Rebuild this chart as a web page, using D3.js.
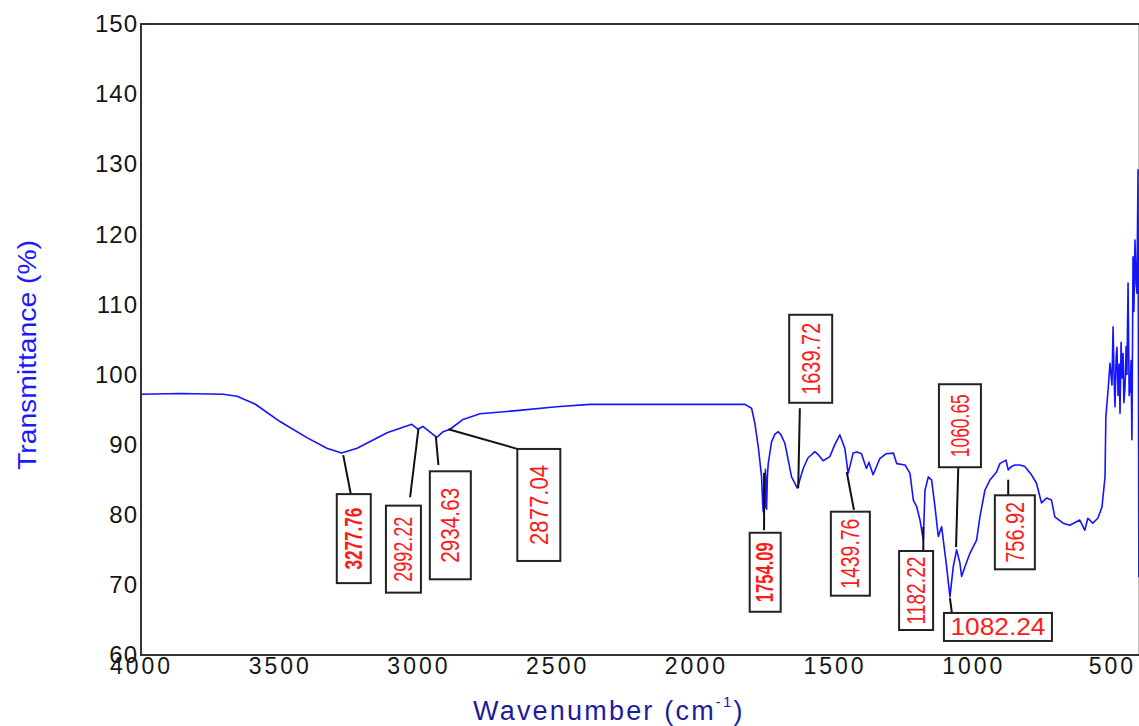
<!DOCTYPE html>
<html>
<head>
<meta charset="utf-8">
<script src="https://cdn.jsdelivr.net/npm/d3@7/dist/d3.min.js"></script>
<style>
body { margin: 0; background: #fff; }
svg { display: block; font-family: "Liberation Sans", Arial, sans-serif; }
</style>
</head>
<body>
<script>
// spectrum (cm-1, %T)
var wavenumber = [4000, 3859, 3704, 3654, 3589, 3499, 3402, 3330, 3277, 3221, 3113, 3024, 3002, 2984, 2934, 2911, 2886, 2839, 2778, 2646, 2502, 2382, 2129, 1823,
    1799, 1787, 1775, 1763, 1759, 1757, 1755, 1751, 1749, 1745, 1742, 1739, 1727, 1715, 1703, 1693, 1679, 1655, 1634, 1613, 1596, 1571, 1557, 1541, 1517, 1499, 1481, 1463, 1451, 1433,
    1419, 1403, 1385, 1376, 1361, 1337, 1315, 1288, 1276, 1246, 1228, 1216, 1204, 1192, 1180, 1174, 1162, 1150, 1138, 1126, 1114, 1108, 1096, 1084, 1072, 1060,
    1048, 1042, 1030, 1012, 988, 976, 958, 940, 916, 904, 882, 874, 862, 850, 832, 814, 790, 772, 760, 754, 736, 718, 706, 676, 652, 628, 616, 598, 587, 569,
    551, 536, 525, 522, 514, 507, 500, 496, 492, 489, 485, 482, 478, 474, 471, 467, 464, 460, 457, 453, 449, 446, 442, 438, 435, 431, 428, 424, 421, 417, 413, 410, 406, 403];
var transmittance = [97.2, 97.3, 97.2, 96.9, 95.8, 93.3, 91.0, 89.5, 88.8, 89.5, 91.7, 92.9, 92.2, 92.6, 91.05, 91.85, 92.2, 93.6, 94.4, 94.85, 95.4, 95.75, 95.75, 95.75,
    95.2, 93.0, 89.7, 85.4, 81.5, 80.4, 84.0, 81.0, 86.5, 80.8, 85.5, 87.3, 90.4, 91.5, 91.85, 91.4, 90.2, 85.4, 83.8, 86.6, 88.1, 89.0, 88.5, 87.7, 88.3, 90.0, 91.4, 89.5, 85.9, 88.8,
    88.95, 88.7, 86.6, 87.5, 85.7, 88.0, 88.7, 88.8, 87.3, 87.1, 85.9, 82.1, 81.15, 79.25, 76.4, 83.5, 85.4, 84.95, 81.15, 76.9, 78.3, 76.4, 72.6, 68.3, 72.6, 75.0,
    73.1, 71.2, 72.6, 74.5, 76.4, 79.7, 83.5, 84.95, 86.1, 87.3, 87.8, 86.4, 86.9, 87.1, 87.1, 86.9, 85.7, 84.5, 82.6, 81.7, 82.4, 82.1, 79.7, 78.8, 78.5, 79.0, 79.25, 77.8, 79.5, 78.8,
    79.5, 81.1, 85.4, 93.95, 97.8, 101.6, 98.5, 106.8, 99.0, 95.4, 102.5, 103.9, 97.0, 101.5, 94.5, 104.6, 99.5, 103.0, 96.0, 98.2, 104.0, 100.0, 113.05, 97.0, 97.8, 102.0, 90.7, 116.8, 109.0, 119.2, 113.0, 111.6, 129.2, 71.1];

var xTicks = [4000, 3500, 3000, 2500, 2000, 1500, 1000, 500];
var yTicks = [60, 70, 80, 90, 100, 110, 120, 130, 140, 150];

// peak annotations: label, leader start/end and box centre (cm-1, %T)
var peakLabels = ["3277.76", "2992.22", "2934.63", "2877.04", "1754.09", "1639.72", "1439.76", "1182.22", "1082.24", "1060.65", "756.92"];
var peakWn = [3271, 3000, 2937, 2892, 1754, 1631, 1456, 1180, 1084, 1062, 874];
var peakT = [88.5, 92.2, 91.1, 92.2, 86.0, 83.8, 86.1, 78.3, 68.1, 75.4, 85.0];
var leaderWn = [3244, 3030, 2928, 2644, 1754, 1625, 1430, 1180, 1077, 1054, 874];
var leaderT = [83.0, 82.5, 87.1, 89.4, 77.8, 95.2, 80.7, 74.9, 66.0, 86.7, 82.8];
var boxWn = [3233, 3054, 2885, 2566, 1750, 1586, 1443, 1206, 911, 1048, 850];
var boxT = [76.6, 75.1, 78.5, 81.4, 71.8, 102.25, 74.45, 69.2, 64.0, 92.7, 77.5];

// box size / text look per label
var labelStyle = [
    {w: 34, h: 89, len: 62, bold: true},
    {w: 35, h: 87, len: 65},
    {w: 41, h: 108, len: 75},
    {w: 43, h: 112, len: 80},
    {w: 31, h: 79, len: 60, bold: true},
    {w: 43, h: 88, len: 72},
    {w: 39, h: 84, len: 70},
    {w: 34, h: 79, len: 68},
    {w: 108, h: 28, len: 95, flat: true},
    {w: 42, h: 83, len: 63},
    {w: 40, h: 74, len: 61}
];

var W = 1139, H = 726;
var x = d3.scaleLinear().domain([4000, 400]).range([141, 1139.7]);
var y = d3.scaleLinear().domain([60, 150]).range([655, 24]);

var svg = d3.select("body").append("svg")
    .attr("width", W)
    .attr("height", H);

svg.append("rect").attr("width", W).attr("height", H).attr("fill", "#fff");

// spectrum
var spectrum = wavenumber.map(function(d, i) { return {wn: d, t: transmittance[i]}; });
var line = d3.line()
    .x(function(d) { return x(d.wn); })
    .y(function(d) { return y(d.t); });

svg.append("path")
    .attr("d", line(spectrum))
    .attr("fill", "none")
    .attr("stroke", "#1414ff")
    .attr("stroke-width", 1.6)
    .attr("stroke-linejoin", "round");

// frame
svg.append("rect")
    .attr("x", x(4000))
    .attr("y", y(150))
    .attr("width", x(400) - x(4000))
    .attr("height", y(60) - y(150))
    .attr("fill", "none")
    .attr("stroke", "#333")
    .attr("stroke-width", 2);

// axes
var yAxis = svg.append("g")
    .attr("transform", "translate(" + x(4000) + ",0)")
    .call(d3.axisLeft(y).tickValues(yTicks).tickSize(0).tickPadding(3));
yAxis.select(".domain").remove();
yAxis.selectAll("text")
    .style("font-size", "24px")
    .style("letter-spacing", "1px")
    .attr("fill", "#151515");

var xAxis = svg.append("g")
    .attr("transform", "translate(0," + y(60) + ")")
    .call(d3.axisBottom(x).tickValues(xTicks).tickFormat(d3.format("d")).tickSize(0).tickPadding(3));
xAxis.select(".domain").remove();
xAxis.selectAll("text")
    .style("font-size", "23px")
    .style("letter-spacing", "3px")
    .attr("fill", "#151515");

// axis titles
svg.append("text")
    .attr("transform", "translate(27,355) rotate(-90)")
    .attr("text-anchor", "middle")
    .attr("dominant-baseline", "central")
    .attr("textLength", 230)
    .attr("lengthAdjust", "spacingAndGlyphs")
    .style("font-size", "25px")
    .attr("fill", "#1a1aff")
    .text("Transmittance (%)");

var xt = svg.append("text")
    .attr("x", 473)
    .attr("y", 720)
    .style("font-size", "27px")
    .style("letter-spacing", "2.2px")
    .attr("fill", "#1c1c9c");
xt.append("tspan").text("Wavenumber (cm");
xt.append("tspan").attr("dy", -13).style("font-size", "15px").text("-1");
xt.append("tspan").attr("dy", 13).text(")");

// leaders, boxes, labels
peakLabels.forEach(function(lab, i) {
    var s = labelStyle[i];
    svg.append("line")
        .attr("x1", x(peakWn[i])).attr("y1", y(peakT[i]))
        .attr("x2", x(leaderWn[i])).attr("y2", y(leaderT[i]))
        .attr("stroke", "#111")
        .attr("stroke-width", 2);

    var cx = x(boxWn[i]), cy = y(boxT[i]);
    svg.append("rect")
        .attr("x", cx - s.w / 2).attr("y", cy - s.h / 2)
        .attr("width", s.w).attr("height", s.h)
        .attr("fill", "#fff")
        .attr("stroke", "#222")
        .attr("stroke-width", 2);

    svg.append("text")
        .attr("transform", "translate(" + cx + "," + cy + ")" + (s.flat ? "" : " rotate(-90)"))
        .attr("text-anchor", "middle")
        .attr("dominant-baseline", "central")
        .attr("textLength", s.len)
        .attr("lengthAdjust", "spacingAndGlyphs")
        .style("font-size", s.flat ? "23px" : (s.bold ? "23px" : "26px"))
        .style("font-weight", s.bold ? "bold" : "normal")
        .attr("fill", "#ff1a1a")
        .text(lab);
});
</script>
</body>
</html>
